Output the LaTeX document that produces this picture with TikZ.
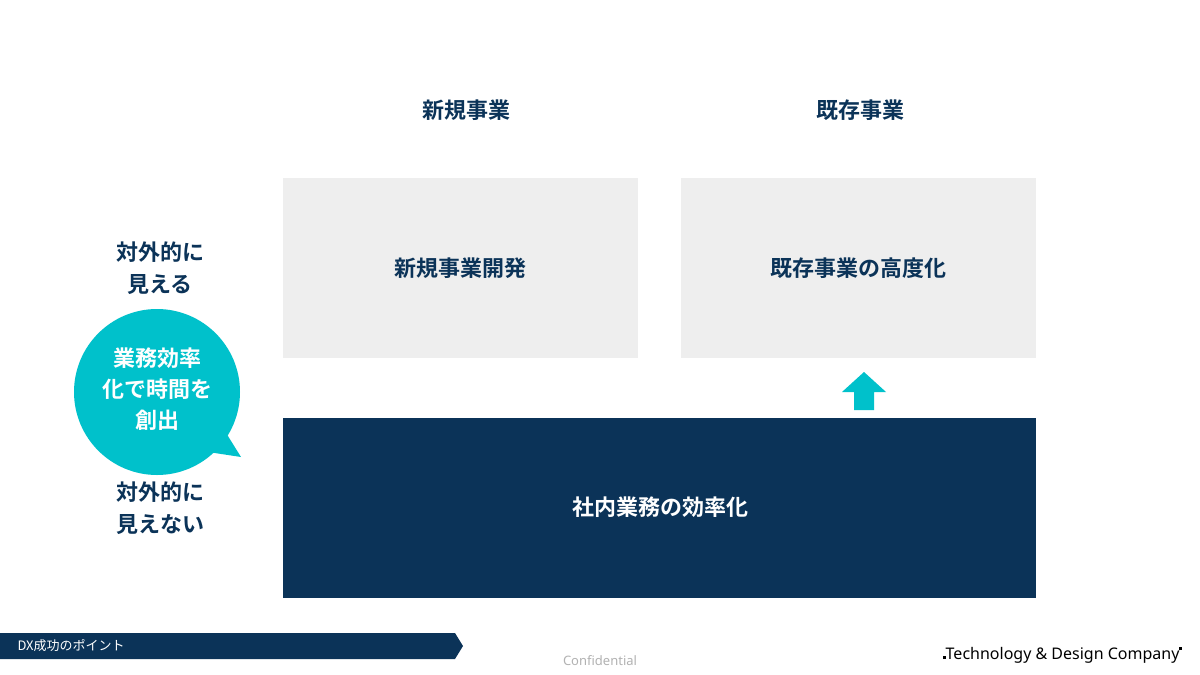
\documentclass[tikz,border=0pt]{standalone}
\usepackage{fontspec}
\setmainfont{Noto Sans CJK JP}
\newfontfamily\jpb{Noto Sans CJK JP Bold}
\newfontfamily\lat{Noto Sans}
\definecolor{navy}{HTML}{0B3358}
\definecolor{teal}{HTML}{00C1CB}
\definecolor{lgrey}{HTML}{EEEEEE}
\begin{document}
\begin{tikzpicture}[x=1pt,y=-1pt,
  hdr/.style={text=navy,font=\jpb\fontsize{22}{26}\selectfont,align=center,inner sep=0pt},
  box/.style={fill=lgrey,draw=none}]
\useasboundingbox (0,0) rectangle (1200,675);
\fill[white] (0,0) rectangle (1200,675);
\node[hdr] (h1) at (466,110) {新規事業};
\node[hdr] (h2) at (860,110) {既存事業};
\fill[box] (283,178) rectangle (638,358);
\node[hdr] (b1) at (460,268) {新規事業開発};
\fill[box] (681,178) rectangle (1036,358);
\node[hdr] (b2) at (858,268) {既存事業の高度化};
\fill[navy] (283,418) rectangle (1036,598);
\node[hdr,text=white] (b3) at (660,507) {社内業務の効率化};
\fill[teal] (854,410) -- (854,392) -- (842,392) -- (864,372) -- (886,392) -- (874,392) -- (874,410) -- cycle;
\node[hdr,font=\jpb\fontsize{22}{32}\selectfont] (l1) at (160,268) {対外的に\\見える};
\node[hdr,font=\jpb\fontsize{22}{32}\selectfont] (l2) at (160,508) {対外的に\\見えない};
\fill[teal] (157,392) circle (83);
\fill[teal] (218,420) -- (241,457) -- (195,450) -- cycle;
\node[hdr,text=white,font=\jpb\fontsize{22}{31}\selectfont] (bub) at (157,389) {業務効率\\化で時間を\\創出};
\fill[navy] (0,633) -- (455,633) -- (463,646) -- (455,659) -- (0,659) -- cycle;
\node[text=white,font=\fontsize{13}{15}\selectfont,anchor=west] (dx) at (14,646) {DX成功のポイント};
\node[text=black!30,font=\lat\fontsize{13}{15}\selectfont] (conf) at (600,661) {Confidential};
\node[font=\lat\fontsize{16}{18}\selectfont,anchor=east] (logo) at (1186,655) {\rule{3pt}{3pt}Technology \& Design Company\raisebox{9pt}{\rule{3pt}{3pt}}};
\end{tikzpicture}
\end{document}
